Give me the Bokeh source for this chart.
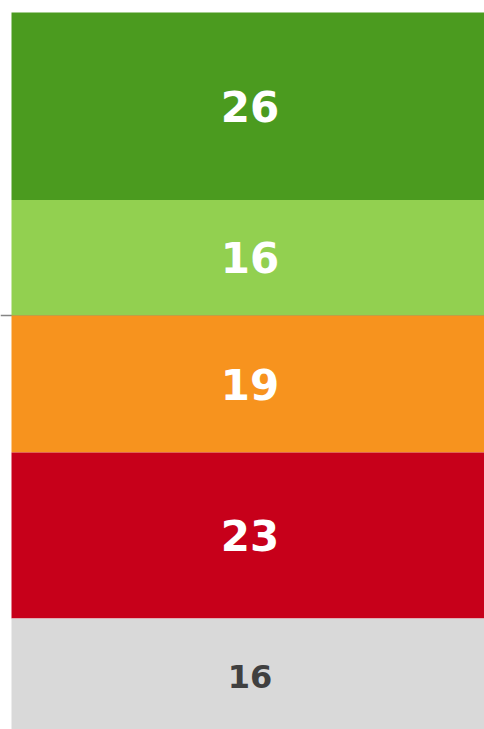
from bokeh.plotting import figure
from bokeh.models import Range1d, Span, ColumnDataSource
from bokeh.core.properties import value
from bokeh.embed import file_html
from bokeh.resources import INLINE

# Data (top to bottom as drawn)
labels = ["26", "16", "19", "23", "16"]
values = [26, 16, 19, 23, 16]
signs = [1, 1, -1, -1, -1]  # positive above zero, negative below
colors = ["#4B9B1F", "#92D050", "#F7931E", "#C7001A", "#D9D9D9"]
text_colors = ["#FFFFFF", "#FFFFFF", "#FFFFFF", "#FFFFFF", "#404040"]
text_sizes = ["42px", "42px", "42px", "42px", "32px"]

n = len(values)
bottoms, tops = [0.0] * n, [0.0] * n
# positives stack outward from zero, starting with the one nearest zero (last positive)
pos = 0
for i in reversed(range(n)):
    if signs[i] > 0:
        bottoms[i] = pos; tops[i] = pos + values[i]; pos += values[i]
neg = 0
for i in range(n):
    if signs[i] < 0:
        tops[i] = neg; bottoms[i] = neg - values[i]; neg -= values[i]
mids = [(b + t) / 2 for b, t in zip(bottoms, tops)]

src = ColumnDataSource(dict(bottom=bottoms, top=tops, mid=mids, color=colors,
                            label=labels, tcolor=text_colors, tsize=text_sizes,
                            x=[0.5] * n))

p = figure(width=484, height=729, output_backend="svg", toolbar_location=None,
           x_range=Range1d(-0.02326, 1.0), y_range=Range1d(-57.39, 43.663),
           min_border=0)
p.axis.visible = False
p.grid.visible = False
p.outline_line_color = None
p.background_fill_color = "white"
p.border_fill_color = "white"

zero = Span(location=0, dimension="width", line_color="#858585", line_width=1.5, level="underlay")
p.add_layout(zero)

p.vbar(x="x", width=1.0, bottom="bottom", top="top", fill_color="color",
       line_color=None, source=src)
p.text(x="x", y="mid", text="label", text_color="tcolor", text_font_size="tsize",
       text_font=value("DejaVu Sans"), text_font_style="bold", x_offset=2,
       text_align="center", text_baseline="middle", source=src)

open("out.html", "w").write(file_html(p, INLINE))
